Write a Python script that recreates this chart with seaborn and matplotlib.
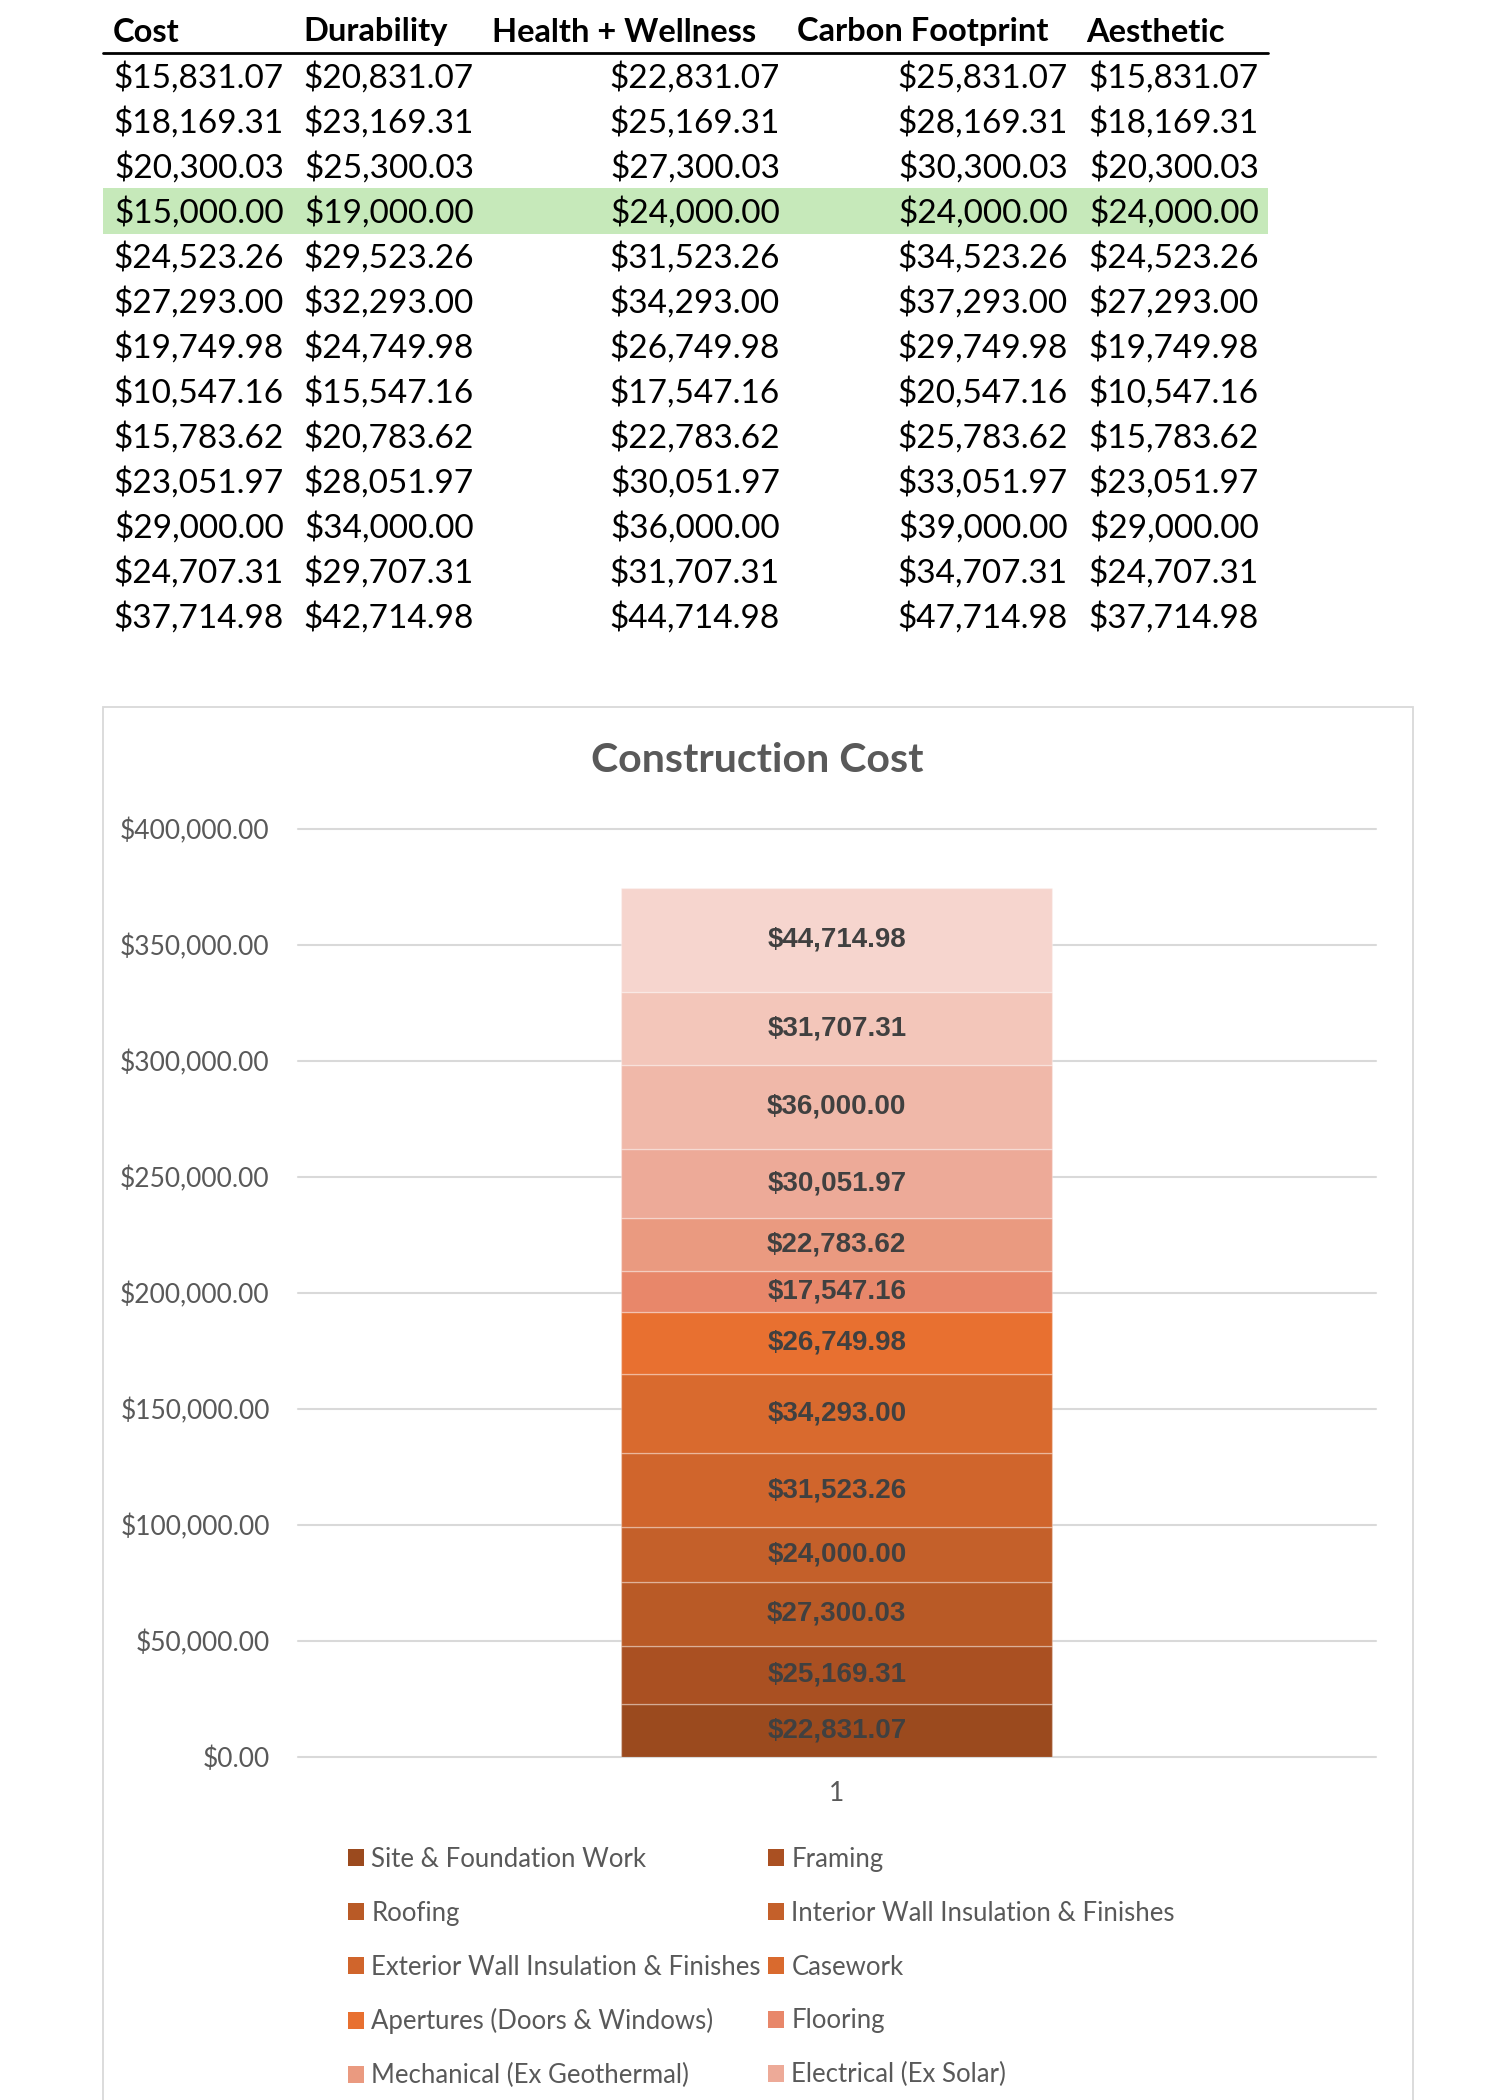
import matplotlib
matplotlib.use("Agg")
import matplotlib.pyplot as plt
import seaborn as sns
import numpy as np
from matplotlib.patches import Rectangle, Patch
from matplotlib.lines import Line2D

# ---------------- data ----------------
table_headers = ["Cost", "Durability", "Health + Wellness", "Carbon Footprint", "Aesthetic"]
cost = [15831.07, 18169.31, 20300.03, 15000.00, 24523.26, 27293.00, 19749.98,
        10547.16, 15783.62, 23051.97, 29000.00, 24707.31, 37714.98]
durability = [20831.07, 23169.31, 25300.03, 19000.00, 29523.26, 32293.00, 24749.98,
              15547.16, 20783.62, 28051.97, 34000.00, 29707.31, 42714.98]
health = [22831.07, 25169.31, 27300.03, 24000.00, 31523.26, 34293.00, 26749.98,
          17547.16, 22783.62, 30051.97, 36000.00, 31707.31, 44714.98]
carbon = [25831.07, 28169.31, 30300.03, 24000.00, 34523.26, 37293.00, 29749.98,
          20547.16, 25783.62, 33051.97, 39000.00, 34707.31, 47714.98]
aesthetic = [15831.07, 18169.31, 20300.03, 24000.00, 24523.26, 27293.00, 19749.98,
             10547.16, 15783.62, 23051.97, 29000.00, 24707.31, 37714.98]
highlight_row = 3

chart_title = "Construction Cost"
category = ["1"]
segment_values = health
legend_names = ["Site & Foundation Work", "Framing", "Roofing",
                "Interior Wall Insulation & Finishes",
                "Exterior Wall Insulation & Finishes", "Casework",
                "Apertures (Doors & Windows)", "Flooring",
                "Mechanical (Ex Geothermal)", "Electrical (Ex Solar)"]
y_ticks = [0, 50000, 100000, 150000, 200000, 250000, 300000, 350000, 400000]

segment_colors = ["#9B4A1E", "#AA5022", "#B95A26", "#C4602A", "#D0652C", "#D96A2E",
                  "#E87030", "#E8876A", "#EA9A80", "#EDAA98", "#F0B8A9", "#F3C6BA",
                  "#F6D5CE"]

# ---------------- figure ----------------
sns.set_theme(style="white")
plt.rcParams["font.family"] = ["Lato", "DejaVu Sans"]

W, H = 1500, 2100
fig = plt.figure(figsize=(15, 21), dpi=100)
fig.patch.set_facecolor("white")


def fx(px):
    return px / W


def fy(py):
    return 1 - py / H


# ---------------- table ----------------
header_x = [113, 303, 492, 797, 1086]
value_right = [284, 474, 780, 1068, 1259]
columns = [cost, durability, health, carbon, aesthetic]

fig.add_artist(Rectangle((fx(103), fy(234)), (1268 - 103) / W, (234 - 188) / H,
                         facecolor="#C6E9BA", edgecolor="none", zorder=0))
fig.add_artist(Line2D([fx(103), fx(1268)], [fy(53), fy(53)], color="black", lw=2.0))
for hx, name in zip(header_x, table_headers):
    fig.text(fx(hx), fy(41.5), name, ha="left", va="baseline", fontsize=23.5,
             fontweight="bold", color="black")
for c, (rx, col) in enumerate(zip(value_right, columns)):
    for r, v in enumerate(col):
        fig.text(fx(rx), fy(87.5 + 45.0 * r), f"${v:,.2f}", ha="right", va="baseline",
                 fontsize=24, color="black")

# ---------------- chart box ----------------
fig.add_artist(Rectangle((fx(103), fy(2120)), (1413 - 103) / W, (2120 - 707) / H,
                         fill=False, edgecolor="#D9D9D9", lw=1.3, zorder=0))
fig.text(fx(757.5), fy(760), chart_title, ha="center", va="center", fontsize=29.5,
         fontweight="bold", color="#595959")

# ---------------- stacked bar ----------------
ax = fig.add_axes([fx(297.5), fy(1757), (1376 - 297.5) / W, (1757 - 829) / H])
bottoms = np.concatenate([[0], np.cumsum(segment_values)[:-1]])
for v, b, c in zip(segment_values, bottoms, segment_colors):
    sns.barplot(x=category, y=[v], bottom=b, color=c, saturation=1, width=0.4,
                edgecolor=(1, 1, 1, 0.3), linewidth=1.0, ax=ax, zorder=3)

for cont, v in zip(ax.containers, segment_values):
    ax.bar_label(cont, labels=[f"${v:,.2f}"], label_type="center", fontsize=20,
                 fontweight="bold", color="#404040", family="Liberation Sans")

ax.set_xlim(-0.5, 0.5)
ax.set_ylim(0, 400000)
ax.set_yticks(y_ticks)
ax.set_yticklabels([f"${t:,.2f}" for t in y_ticks])
ax.yaxis.grid(True, color="#D9D9D9", lw=1.5)
ax.xaxis.grid(False)
ax.set_axisbelow(True)
for gl in ax.get_ygridlines():
    gl.set_clip_on(False)
sns.despine(ax=ax, left=True, bottom=True, top=True, right=True)
ax.tick_params(axis="y", length=0, pad=20, labelsize=19, labelcolor="#595959")
ax.tick_params(axis="x", length=0, pad=17, labelsize=19, labelcolor="#595959")
ax.set_xlabel("")
ax.set_ylabel("")

# ---------------- legend (two columns, row-wise order) ----------------
col_a = [0, 2, 4, 6, 8]
col_b = [1, 3, 5, 7, 9]
leg_kw = dict(loc="upper left", frameon=False, fontsize=18.5, handlelength=0.64,
              handleheight=0.64, handletextpad=0.27, labelspacing=1.12,
              borderpad=0, borderaxespad=0, labelcolor="#595959")
for idx, left in ((col_a, 348), (col_b, 768)):
    handles = [Patch(facecolor=segment_colors[i], edgecolor="none") for i in idx]
    labels = [legend_names[i] for i in idx]
    lg = fig.legend(handles, labels, bbox_to_anchor=(fx(left), fy(1847)), **leg_kw)

fig.savefig("out.png", dpi=100, facecolor="white")
